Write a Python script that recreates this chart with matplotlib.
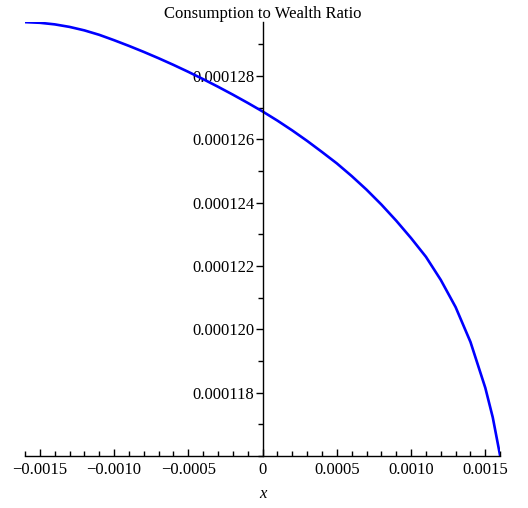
import numpy as np
import matplotlib.pyplot as plt
from matplotlib.ticker import MultipleLocator

# consumption-to-wealth ratio sampled along x (ratio in units of 1e-7)
x_vals = [-0.0016, -0.0015, -0.0014, -0.0013, -0.0012, -0.0011, -0.0010,
          -0.0009, -0.0008, -0.0007, -0.0006, -0.0005, -0.0004, -0.0003,
          -0.0002, -0.0001, 0.0, 0.0001, 0.0002, 0.0003, 0.0004, 0.0005,
          0.0006, 0.0007, 0.0008, 0.0009, 0.0010, 0.0011, 0.0012, 0.0013,
          0.0014, 0.0015, 0.00155, 0.0016]
ratio_e7 = [1297.0, 1296.8, 1296.3, 1295.5, 1294.4, 1293.0, 1291.3,
            1289.5, 1287.6, 1285.6, 1283.5, 1281.3, 1279.0, 1276.6,
            1274.1, 1271.5, 1268.8, 1265.9, 1262.8, 1259.5, 1256.0, 1252.4,
            1248.4, 1244.1, 1239.4, 1234.3, 1228.8, 1222.9, 1215.6, 1207.0,
            1196.0, 1181.5, 1172.2, 1160.0]
ratio_vals = np.array(ratio_e7) * 1e-7

x_ticks = [-0.0015, -0.0010, -0.0005, 0.0, 0.0005, 0.0010, 0.0015]
x_tick_labels = ["\u22120.0015", "\u22120.0010", "\u22120.0005", "0",
                 "0.0005", "0.0010", "0.0015"]
y_ticks = [0.000118, 0.000120, 0.000122, 0.000124, 0.000126, 0.000128]
y_tick_labels = ["0.000118", "0.000120", "0.000122", "0.000124",
                 "0.000126", "0.000128"]

plt.rcParams["font.family"] = ["Liberation Serif", "DejaVu Serif"]
plt.rcParams["font.size"] = 12

fig = plt.figure(figsize=(5.28, 5.08), dpi=100)
ax = fig.add_axes([0.0473, 0.1024, 0.9, 0.854])

ax.plot(x_vals, ratio_vals, color="#0000ff", linewidth=1.9,
        solid_capstyle="butt", solid_joinstyle="round")

ax.set_xlim(-0.0016, 0.0016)
ax.set_ylim(0.000116, 0.0001297)

# axes drawn through the origin, Maple style
ax.spines["top"].set_visible(False)
ax.spines["right"].set_visible(False)
ax.spines["left"].set_position(("data", 0))
for side in ("left", "bottom"):
    ax.spines[side].set_linewidth(1.0)

ax.set_xticks(x_ticks)
ax.set_xticklabels(x_tick_labels)
ax.xaxis.set_minor_locator(MultipleLocator(0.0001))
ax.set_yticks(y_ticks)
ax.set_yticklabels(y_tick_labels)
ax.yaxis.set_minor_locator(MultipleLocator(0.000001))

ax.tick_params(axis="x", which="major", direction="in", length=5, width=1, pad=4)
ax.tick_params(axis="x", which="minor", direction="in", length=3.5, width=1)
ax.tick_params(axis="y", which="major", direction="out", length=5, width=1, pad=1)
ax.tick_params(axis="y", which="minor", direction="out", length=3.5, width=1)

ax.set_xlabel("x", fontstyle="italic", labelpad=6)
ax.set_title("Consumption to Wealth Ratio", fontsize=12, pad=3)

fig.savefig("out.png", dpi=100)
